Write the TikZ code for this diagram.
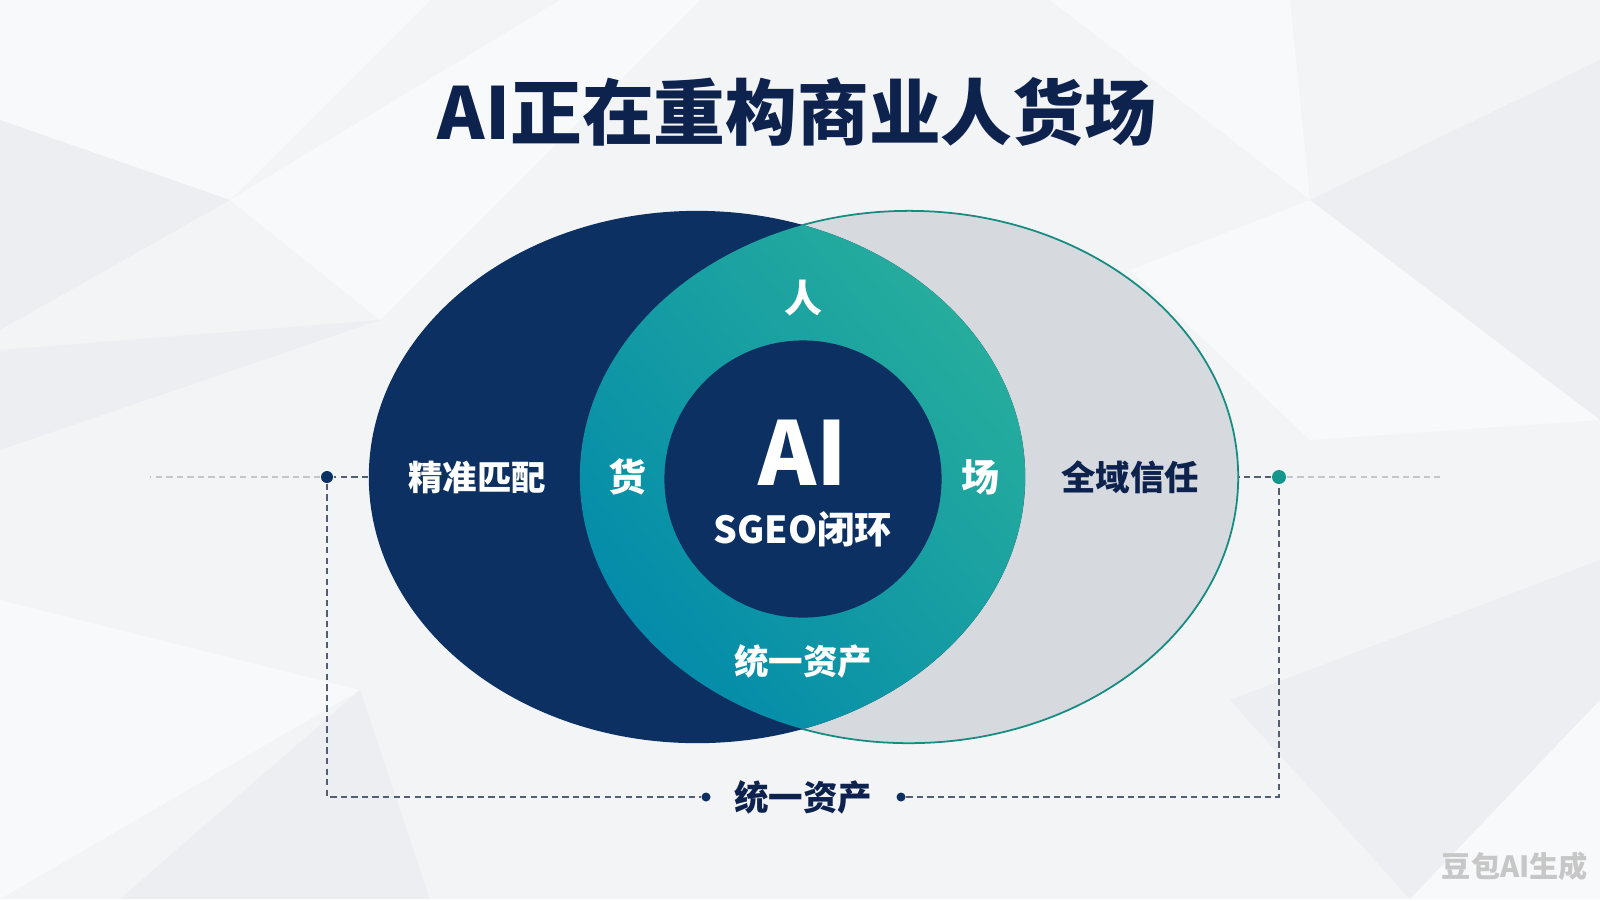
\documentclass[tikz,border=0pt]{standalone}
\usepackage{fontspec}
\setmainfont{Noto Sans CJK SC}
\usepackage{tikz}
\usepackage{xcolor}
\usetikzlibrary{arrows.meta,positioning,calc,shapes.geometric}
\definecolor{paper}{RGB}{243,244,246}
\definecolor{facetlight}{RGB}{248,249,250}
\definecolor{facetdark}{RGB}{236,238,241}
\definecolor{deepnavy}{RGB}{12,48,98}
\definecolor{titlenavy}{RGB}{14,34,78}
\definecolor{lensblue}{RGB}{4,140,170}
\definecolor{lensgreen}{RGB}{50,184,152}
\definecolor{mistgray}{RGB}{214,218,223}
\definecolor{rimteal}{RGB}{22,140,128}
\definecolor{dotteal}{RGB}{20,150,140}
\definecolor{dashgray}{RGB}{84,94,110}

\begin{document}
\begin{tikzpicture}[x=0.01cm, y=-0.01cm,
  whitelabel/.style={font=\bfseries\fontsize{9.8}{12}\selectfont, text=white, inner sep=0pt},
  corelabel/.style={font=\bfseries\fontsize{10.8}{13}\selectfont, text=white, inner sep=0pt},
  dashline/.style={draw=dashgray, line width=0.4pt, dash pattern=on 1.8pt off 1.2pt},
  fadeline/.style={draw=dashgray!35, line width=0.4pt, dash pattern=on 1.8pt off 1.2pt},
  hubdot/.style={circle, inner sep=0pt, minimum size=0.12cm}]

  % background and soft facets
  \useasboundingbox (0,0) rectangle (1600,899);
  \fill[paper] (0,0) rectangle (1600,899);
  \fill[facetlight] (0,0) -- (430,0) -- (230,200) -- (0,120) -- cycle;
  \fill[facetdark] (0,120) -- (230,200) -- (0,330) -- cycle;
  \fill[facetdark] (0,350) -- (380,320) -- (0,450) -- cycle;
  \fill[facetlight] (380,320) -- (230,200) -- (560,0) -- (700,0) -- cycle;
  \fill[facetlight] (0,600) -- (360,690) -- (0,899) -- cycle;
  \fill[facetdark] (360,690) -- (430,899) -- (120,899) -- cycle;
  \fill[facetlight] (1050,0) -- (1290,0) -- (1310,200) -- cycle;
  \fill[facetdark] (1310,200) -- (1600,60) -- (1600,420) -- cycle;
  \fill[facetlight] (1130,270) -- (1310,200) -- (1600,420) -- (1310,440) -- cycle;
  \fill[facetdark] (1230,700) -- (1600,560) -- (1600,899) -- (1410,899) -- cycle;
  \fill[facetlight] (1410,899) -- (1600,700) -- (1600,899) -- cycle;

  % title
  \node[font=\bfseries\fontsize{20.4}{24}\selectfont, text=titlenavy] (title) at (797,112) {AI正在重构商业人货场};

  % the two sets
  \node[ellipse, fill=mistgray, draw=rimteal, line width=0.5pt, minimum width=6.58cm, minimum height=5.32cm, inner sep=0pt] (scene) at (909,477) {};
  \node[ellipse, fill=deepnavy, minimum width=6.56cm, minimum height=5.32cm, inner sep=0pt] (match) at (697,477) {};

  % overlap
  \begin{scope}
    \clip (697,477) ellipse [x radius=3.28cm, y radius=2.66cm];
    \shade[top color=lensgreen, bottom color=lensblue, shading angle=-50] (909,477) ellipse [x radius=3.29cm, y radius=2.66cm];
  \end{scope}

  % core
  \node[circle, fill=deepnavy, minimum size=2.77cm, inner sep=0pt] (core) at (803,479) {};
  \node[font=\bfseries\fontsize{25}{28}\selectfont, text=white, inner sep=0pt] (ai) at (803,453) {AI};
  \node[font=\bfseries\fontsize{10.6}{13}\selectfont, text=white, inner sep=0pt] (loop) at (803,529) {SGEO闭环};

  \node[corelabel] (ren) at (803,298) {人};
  \node[corelabel] (huo) at (627,477) {货};
  \node[corelabel] (chang) at (980,477) {场};
  \node[whitelabel] (asset) at (803,661) {统一资产};

  \node[whitelabel] (precise) at (477,477) {精准匹配};
  \node[whitelabel, text=titlenavy] (trust) at (1130,477) {全域信任};

  % bracket below
  \node[whitelabel, text=titlenavy] (bottom) at (803,797) {统一资产};
  \node[hubdot, fill=deepnavy] (ldot) at (327,477) {};
  \node[hubdot, fill=dotteal, minimum size=0.14cm] (rdot) at (1279,477) {};
  \node[hubdot, fill=deepnavy, minimum size=0.09cm] (bldot) at (706,797) {};
  \node[hubdot, fill=deepnavy, minimum size=0.09cm] (brdot) at (901,797) {};
  \coordinate (lfade) at (150,477);
  \coordinate (rfade) at (1440,477);

  \draw[dashline] (match.west) -- (ldot);
  \draw[dashline] (ldot) |- (bldot);
  \draw[dashline] (brdot) -| (rdot);
  \draw[dashline] (rdot) -- (scene.east);
  \draw[fadeline] (ldot) -- (lfade);
  \draw[fadeline] (rdot) -- (rfade);

  % mark
  \node[font=\bfseries\fontsize{8.3}{10}\selectfont, text=black!22] (mark) at (1515,866) {豆包AI生成};
\end{tikzpicture}
\end{document}
